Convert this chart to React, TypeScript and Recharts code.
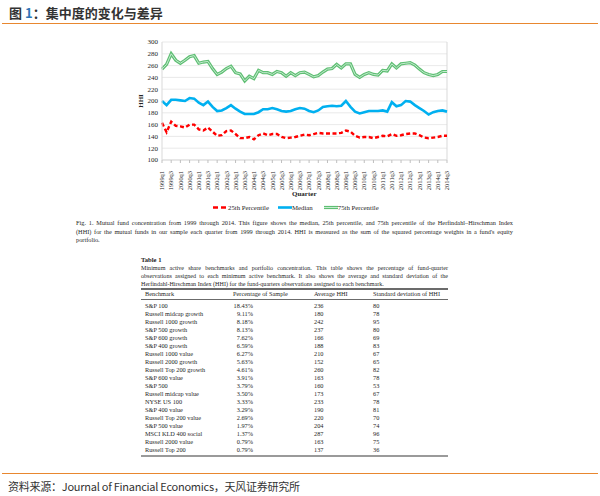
import React from "react";

// Library
import { LineChart, XAxis, YAxis, Line, CartesianGrid, ReferenceLine } from "recharts";

const years = ["1999", "2000", "2001", "2002", "2003", "2004", "2005", "2006", "2007", "2008", "2009", "2010", "2011", "2012", "2013", "2014"];
const quarters = ["q1", "q2", "q3", "q4"];

const p25 = [
  163, 147, 165, 158, 157, 155, 160, 160, 152, 150,
  155, 148, 141, 142, 149, 150, 144, 137, 137, 139,
  135, 142, 145, 142, 144, 144, 139, 137, 138, 139,
  141, 143, 142, 144, 146, 145, 145, 145, 145, 146,
  150, 148, 141, 138, 139, 139, 137, 139, 141, 140,
  144, 141, 142, 144, 145, 145, 142, 138, 137, 138,
  139, 141, 141,
];
const median = [
  200, 193, 202, 202, 201, 200, 205, 204, 197, 193,
  199, 190, 183, 184, 188, 193, 187, 182, 178, 178,
  178, 181, 186, 186, 188, 186, 183, 182, 183, 186,
  188, 187, 183, 181, 184, 190, 191, 192, 191, 192,
  200, 190, 182, 179, 181, 183, 183, 183, 184, 182,
  198, 191, 193, 200, 199, 193, 188, 183, 177, 181,
  183, 184, 182,
];
const p75 = [
  254, 262, 280, 269, 264, 269, 275, 277, 264, 266,
  267, 255, 245, 249, 255, 259, 248, 246, 234, 242,
  238, 252, 248, 248, 245, 250, 248, 242, 248, 243,
  248, 249, 245, 241, 243, 249, 254, 255, 262, 256,
  263, 263, 245, 240, 245, 248, 245, 244, 252, 251,
  263, 256, 263, 264, 265, 261, 254, 248, 245, 243,
  245, 250, 250,
];
const yTicks = [100, 120, 140, 160, 180, 200, 220, 240, 260, 280, 300];

const categories = years
  .flatMap((y) => quarters.map((q) => y + q))
  .slice(0, p25.length);

const data = categories.map((name, i) => ({
  name,
  p25: p25[i],
  median: median[i],
  p75: p75[i],
}));

const benchmarks = [
  "S&P 100", "Russell midcap growth", "Russell 1000 growth", "S&P 500 growth", "S&P 600 growth",
  "S&P 400 growth", "Russell 1000 value", "Russell 2000 growth", "Russell Top 200 growth", "S&P 600 value",
  "S&P 500", "Russell midcap value", "NYSE US 100", "S&P 400 value", "Russell Top 200 value",
  "S&P 500 value", "MSCI KLD 400 social", "Russell 2000 value", "Russell Top 200",
];
const pctSample = [
  "18.43%", "9.11%", "8.18%", "8.13%", "7.62%", "6.59%", "6.27%", "5.63%", "4.61%", "3.91%",
  "3.79%", "3.50%", "3.33%", "3.29%", "2.69%", "1.97%", "1.37%", "0.79%", "0.79%",
];
const avgHHI = [236, 180, 242, 237, 166, 188, 210, 152, 260, 163, 160, 173, 233, 190, 220, 204, 287, 163, 137];
const sdHHI = [80, 78, 95, 80, 69, 83, 67, 65, 82, 78, 53, 67, 78, 81, 70, 74, 96, 75, 36];

const SERIF = '"Liberation Serif", "Times New Roman", serif';
const CJK = '"Noto Sans CJK SC", "Noto Sans CJK JP", sans-serif';
const TXT = "#262626";

function QuarterTick({ x, y, payload }: any) {
  return (
    <text
      x={x}
      y={y + 6}
      dy="0.35em"
      transform={`rotate(-90, ${x}, ${y + 6})`}
      textAnchor="end"
      fontSize={6.4}
      fontFamily={SERIF}
      fill={TXT}
    >
      {payload.value}
    </text>
  );
}

function Abs({ top, left, width, style, children }: any) {
  return (
    <div style={{ position: "absolute", top, left, width, whiteSpace: "nowrap", ...style }}>
      {children}
    </div>
  );
}

const captionLines = [
  "Fig. 1.  Mutual fund concentration from 1999 through 2014. This figure shows the median, 25th percentile, and 75th percentile of the Herfindahl–Hirschman Index",
  "(HHI) for the mutual funds in our sample each quarter from 1999 through 2014. HHI is measured as the sum of the squared percentage weights in a fund's equity",
  "portfolio.",
];
const tableDesc = [
  "Minimum active share benchmarks and portfolio concentration. This table shows the percentage of fund-quarter",
  "observations assigned to each minimum active benchmark. It also shows the average and standard deviation of the",
  "Herfindahl-Hirschman Index (HHI) for the fund-quarters observations assigned to each benchmark.",
];

function App() {
  const small = { fontFamily: SERIF, fontSize: 6.3, color: TXT, lineHeight: "8px" };
  return (
    <div style={{ position: "absolute", left: 0, top: 0, width: 600, height: 496, background: "#fff", overflow: "hidden" }}>
      <Abs top={4} left={9} style={{ fontFamily: CJK, fontSize: 13, fontWeight: 700, color: "#333", lineHeight: "18px" }}>
        图 <span style={{ color: "#2e75b6" }}>1</span>：集中度的变化与差异
      </Abs>
      <div style={{ position: "absolute", top: 23, left: 2, width: 596, height: 1, background: "#e8872f" }} />

      <div style={{ position: "absolute", top: 0, left: 0 }}>
        <LineChart width={600} height={200} data={data} margin={{ top: 42, right: 153, left: 122, bottom: 0 }}>
          <CartesianGrid vertical={false} stroke="#e3e3e3" strokeWidth={0.8} />
          <XAxis
            dataKey="name"
            interval={1}
            height={40}
            tick={<QuarterTick />}
            tickSize={3}
            tickLine={{ stroke: "#bfbfbf" }}
            axisLine={{ stroke: "#d9d9d9" }}
          />
          <YAxis
            width={40}
            domain={[100, 300]}
            ticks={yTicks}
            interval={0}
            tickSize={2}
            tickMargin={2}
            tickLine={false}
            axisLine={{ stroke: "#d9d9d9" }}
            tick={{ fontSize: 7, fontFamily: SERIF, fill: TXT }}
          />
          <ReferenceLine x={categories[categories.length - 1]} stroke="#d9d9d9" />
          <Line dataKey="p75" type="linear" stroke="#5fbf73" strokeWidth={3.2} dot={false} isAnimationActive={false} />
          <Line dataKey="p75" type="linear" stroke="#c4ead0" strokeWidth={1} dot={false} isAnimationActive={false} />
          <Line dataKey="median" type="linear" stroke="#00b0f0" strokeWidth={2.6} dot={false} isAnimationActive={false} />
          <Line dataKey="p25" type="linear" stroke="#ff0000" strokeWidth={2.4} strokeDasharray="4 2.5" dot={false} isAnimationActive={false} />
        </LineChart>
      </div>

      <Abs top={96} left={134} style={{ fontFamily: SERIF, fontSize: 7, fontWeight: 700, color: TXT, lineHeight: "10px", transform: "rotate(-90deg)" }}>
        HHI
      </Abs>
      <Abs top={189} left={292} style={{ fontFamily: SERIF, fontSize: 7, fontWeight: 700, color: TXT, lineHeight: "10px" }}>
        Quarter
      </Abs>

      <div style={{ position: "absolute", top: 203, left: 212, display: "flex", alignItems: "center", fontFamily: SERIF, fontSize: 6.8, color: TXT, lineHeight: "9px" }}>
        <svg width={16} height={9}><line x1={1} y1={4.5} x2={15} y2={4.5} stroke="#ff0000" strokeWidth={2.4} strokeDasharray="5 3" /></svg>
        <span style={{ marginRight: 9 }}>25th Percentile</span>
        <svg width={14} height={9}><line x1={0} y1={4.5} x2={14} y2={4.5} stroke="#00b0f0" strokeWidth={2.6} /></svg>
        <span style={{ marginRight: 11 }}>Median</span>
        <svg width={14} height={9}>
          <line x1={0} y1={4.5} x2={14} y2={4.5} stroke="#5fbf73" strokeWidth={3.2} />
          <line x1={0} y1={4.5} x2={14} y2={4.5} stroke="#c4ead0" strokeWidth={1} />
        </svg>
        <span>75th Percentile</span>
      </div>

      {captionLines.map((t, i) => (
        <div
          key={i}
          style={{
            position: "absolute", top: 219 + i * 8.5, left: 76, width: 437, whiteSpace: "nowrap",
            textAlign: "justify", textAlignLast: i < 2 ? "justify" : "left", ...small,
          }}
        >
          {t}
        </div>
      ))}

      <Abs top={256} left={141} style={{ ...small, fontWeight: 700, fontSize: 6.6 }}>Table 1</Abs>
      {tableDesc.map((t, i) => (
        <div
          key={i}
          style={{
            position: "absolute", top: 263.7 + i * 8.3, left: 141, width: 307, whiteSpace: "nowrap",
            textAlign: "justify", textAlignLast: i < 2 ? "justify" : "left", ...small, fontSize: 6.1,
          }}
        >
          {t}
        </div>
      ))}
      <div style={{ position: "absolute", top: 288, left: 141, width: 307, height: 1.6, background: "#6b6b6b" }} />
      <Abs top={290} left={145} style={small}>Benchmark</Abs>
      <Abs top={290} left={233} style={small}>Percentage of Sample</Abs>
      <Abs top={290} left={314} style={small}>Average HHI</Abs>
      <Abs top={290} left={373} style={small}>Standard deviation of HHI</Abs>
      <div style={{ position: "absolute", top: 299, left: 141, width: 307, height: 1.2, background: "#6b6b6b" }} />
      {benchmarks.map((b, i) => (
        <React.Fragment key={b + i}>
          <Abs top={302 + i * 8} left={145} style={small}>{b}</Abs>
          <Abs top={302 + i * 8} left={222} width={31} style={{ ...small, textAlign: "right" }}>{pctSample[i]}</Abs>
          <Abs top={302 + i * 8} left={314} style={small}>{avgHHI[i]}</Abs>
          <Abs top={302 + i * 8} left={373} style={small}>{sdHHI[i]}</Abs>
        </React.Fragment>
      ))}
      <div style={{ position: "absolute", top: 455, left: 141, width: 307, height: 2, background: "#9a9a9a" }} />

      <div style={{ position: "absolute", top: 473, left: 2, width: 596, height: 1, background: "#e8872f" }} />
      <Abs top={479} left={8} style={{ fontFamily: CJK, fontSize: 11, letterSpacing: -0.25, color: "#333", lineHeight: "15px" }}>
        资料来源：Journal of Financial Economics，天风证券研究所
      </Abs>
    </div>
  );
}

export default App;
